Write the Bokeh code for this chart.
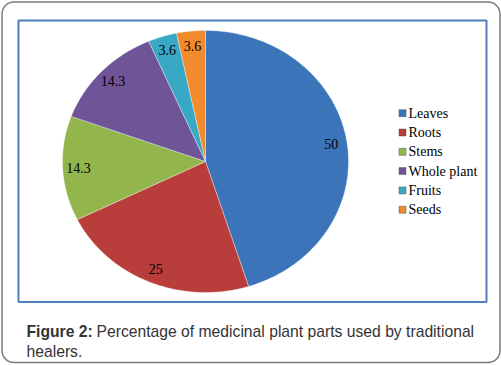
import numpy as np
from bokeh.plotting import figure
from bokeh.models import Range1d
from bokeh.core.properties import value
from bokeh.embed import file_html
from bokeh.resources import INLINE

categories = ["Leaves", "Roots", "Stems", "Whole plant", "Fruits", "Seeds"]
values = [50, 25, 14.3, 14.3, 3.6, 3.6]
labels = ["50", "25", "14.3", "14.3", "3.6", "3.6"]
colors = ["#3c74ba", "#b93d3a", "#92b64c", "#6f5598", "#38a8c5", "#f28a2e"]
caption_bold = "Figure 2:"
caption_line1 = "Percentage of medicinal plant parts used by traditional"
caption_line2 = "healers."

W, H = 501, 365
p = figure(width=W, height=H, output_backend="svg", toolbar_location=None,
           x_range=Range1d(0, W), y_range=Range1d(H, 0), min_border=0)
p.axis.visible = False
p.grid.visible = False
p.outline_line_color = None
p.background_fill_color = "white"
p.border_fill_color = "white"
p.styles = {"position": "absolute", "left": "0px", "top": "0px"}

# outer rounded box and chart frame
p.quad(left=1.5, right=499.5, top=1.5, bottom=362, fill_color=None,
       line_color="#7a7a7a", line_width=1.5, border_radius=12)
p.quad(left=18, right=486, top=20, bottom=301.5, fill_color=None,
       line_color="#4f81bd", line_width=2)

# pie (ellipse), clockwise from 12 o'clock
cx, cy, rx, ry = 205, 161, 143, 131
vals = np.array(values, dtype=float)
frac = vals / vals.sum()
ends = np.cumsum(frac) * 2 * np.pi
starts = ends - frac * 2 * np.pi
xs, ys = [], []
for a0, a1 in zip(starts, ends):
    t = np.linspace(a0, a1, 120)
    xs.append(np.concatenate([[cx], cx + rx * np.sin(t)]).tolist())
    ys.append(np.concatenate([[cy], cy - ry * np.cos(t)]).tolist())
p.patches(xs, ys, fill_color=colors, line_color="white", line_alpha=0.35, line_width=1)

mids = (starts + ends) / 2
f = 0.89
lx = cx + rx * f * np.sin(mids)
ly = cy - ry * f * np.cos(mids)
p.text(lx, ly, text=labels, text_align="center", text_baseline="middle",
       text_font=value("Liberation Serif"), text_font_size="14px", text_color="black")

# legend
ly0, ldy = 112.7, 19.3
leg_y = [ly0 + i * ldy for i in range(len(categories))]
p.rect([402] * len(categories), leg_y, width=7, height=7, fill_color=colors,
       line_color="#555555", line_width=0.5)
p.text([408] * len(categories), leg_y, text=categories, text_align="left",
       text_baseline="middle", text_font=value("Liberation Serif"),
       text_font_size="14px", text_color="black")

# caption
p.text([26], [331], text=[caption_bold], text_align="left", text_baseline="alphabetic",
       text_font=value("Liberation Sans"), text_font_style="bold",
       text_font_size="15.7px", text_color="#333333")
p.text([96], [331], text=[caption_line1], text_align="left", text_baseline="alphabetic",
       text_font=value("Liberation Sans"), text_font_size="15.7px", text_color="#333333")
p.text([26], [350.5], text=[caption_line2], text_align="left", text_baseline="alphabetic",
       text_font=value("Liberation Sans"), text_font_size="15.7px", text_color="#333333")

open("out.html", "w").write(file_html(p, INLINE))
